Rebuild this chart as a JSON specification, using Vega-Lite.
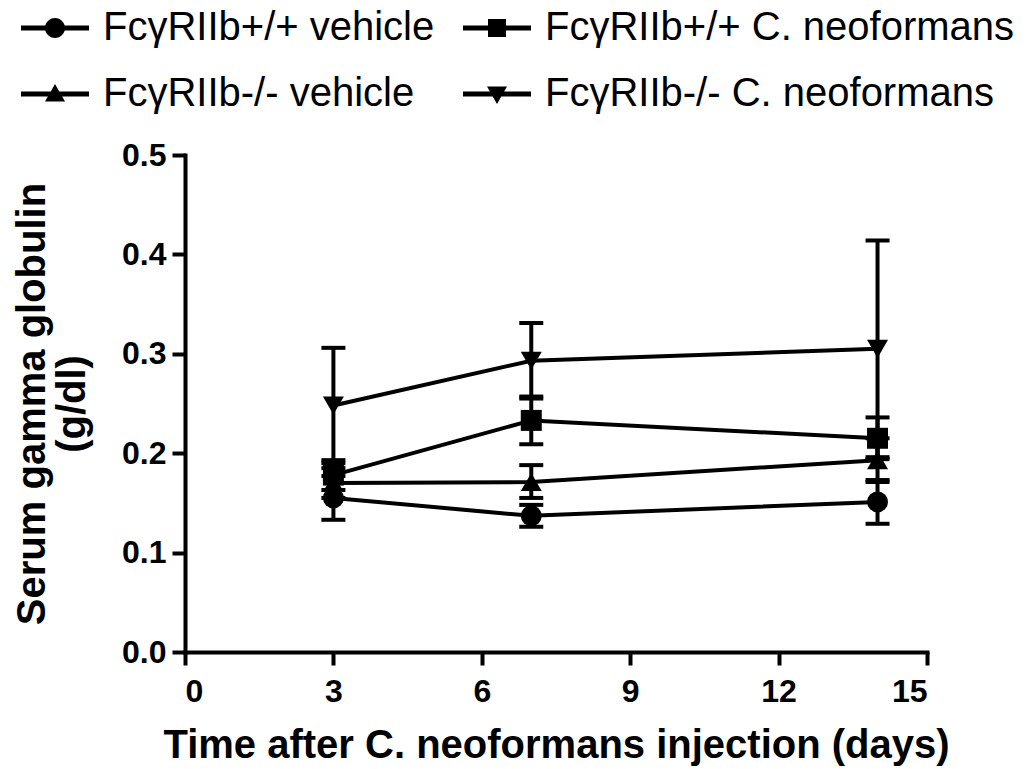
{
  "$schema": "https://vega.github.io/schema/vega-lite/v6.json",
  "width": 742,
  "height": 497,
  "autosize": "none",
  "padding": {"left": 185, "top": 155, "right": 108, "bottom": 117},
  "background": "white",
  "config": {
    "view": {"stroke": null},
    "font": "Liberation Sans",
    "axis": {
      "domainWidth": 4, "domainColor": "black", "domainCap": "square",
      "tickWidth": 4, "tickColor": "black", "tickSize": 13,
      "labelFont": "Liberation Sans", "labelFontWeight": "bold", "labelFontSize": 32, "labelColor": "black",
      "titleFont": "Liberation Sans", "titleFontWeight": "bold", "titleFontSize": 40, "titleColor": "black",
      "grid": false
    }
  },
  "data": {
    "values": [
      {"series": "FcγRIIb+/+ vehicle", "day": 3, "mean": 0.155, "lo": 0.133, "hi": 0.177},
      {"series": "FcγRIIb+/+ vehicle", "day": 7, "mean": 0.137, "lo": 0.126, "hi": 0.148},
      {"series": "FcγRIIb+/+ vehicle", "day": 14, "mean": 0.151, "lo": 0.129, "hi": 0.173},
      {"series": "FcγRIIb+/+ C. neoformans", "day": 3, "mean": 0.178, "lo": 0.163, "hi": 0.193},
      {"series": "FcγRIIb+/+ C. neoformans", "day": 7, "mean": 0.233, "lo": 0.209, "hi": 0.257},
      {"series": "FcγRIIb+/+ C. neoformans", "day": 14, "mean": 0.215, "lo": 0.194, "hi": 0.236},
      {"series": "FcγRIIb-/- vehicle", "day": 3, "mean": 0.170, "lo": 0.155, "hi": 0.185},
      {"series": "FcγRIIb-/- vehicle", "day": 7, "mean": 0.171, "lo": 0.155, "hi": 0.188},
      {"series": "FcγRIIb-/- vehicle", "day": 14, "mean": 0.193, "lo": 0.171, "hi": 0.215},
      {"series": "FcγRIIb-/- C. neoformans", "day": 3, "mean": 0.248, "lo": 0.190, "hi": 0.306},
      {"series": "FcγRIIb-/- C. neoformans", "day": 7, "mean": 0.293, "lo": 0.255, "hi": 0.331},
      {"series": "FcγRIIb-/- C. neoformans", "day": 14, "mean": 0.305, "lo": 0.196, "hi": 0.414}
    ]
  },
  "encoding": {
    "x": {
      "field": "day", "type": "quantitative",
      "scale": {"domain": [0, 15], "nice": false, "zero": false},
      "axis": {"values": [0, 3, 6, 9, 12, 15], "labelPadding": 11, "titlePadding": 18, "title": "Time after C. neoformans injection (days)"}
    }
  },
  "resolve": {"scale": {"shape": "independent"}},
  "layer": [
    {
      "mark": {"type": "rule", "strokeWidth": 4, "color": "black"},
      "encoding": {
        "y": {"field": "lo", "type": "quantitative", "scale": {"domain": [0, 0.5], "nice": false},
              "axis": {"values": [0, 0.1, 0.2, 0.3, 0.4, 0.5], "format": ".1f", "labelPadding": 6, "titlePadding": 29, "titleLineHeight": 40},
              "title": ["Serum gamma globulin", "(g/dl)"]},
        "y2": {"field": "hi"},
        "detail": {"field": "series"}
      }
    },
    {
      "mark": {"type": "tick", "orient": "horizontal", "thickness": 4, "size": 24, "color": "black", "opacity": 1},
      "encoding": {
        "y": {"field": "lo", "type": "quantitative", "title": ["Serum gamma globulin", "(g/dl)"]}
      }
    },
    {
      "mark": {"type": "tick", "orient": "horizontal", "thickness": 4, "size": 24, "color": "black", "opacity": 1},
      "encoding": {
        "y": {"field": "hi", "type": "quantitative", "title": ["Serum gamma globulin", "(g/dl)"]}
      }
    },
    {
      "mark": {"type": "line", "strokeWidth": 4, "color": "black"},
      "encoding": {
        "y": {"field": "mean", "type": "quantitative", "title": ["Serum gamma globulin", "(g/dl)"]},
        "detail": {"field": "series"}
      }
    },
    {
      "mark": {"type": "point", "filled": true, "size": 440, "opacity": 1, "color": "black", "strokeWidth": 0},
      "encoding": {
        "y": {"field": "mean", "type": "quantitative", "title": ["Serum gamma globulin", "(g/dl)"]},
        "shape": {
          "field": "series", "type": "nominal",
          "scale": {
            "domain": ["FcγRIIb+/+ vehicle", "FcγRIIb+/+ C. neoformans", "FcγRIIb-/- vehicle", "FcγRIIb-/- C. neoformans"],
            "range": ["circle", "square", "triangle-up", "triangle-down"]
          },
          "legend": null
        }
      }
    },
    {
      "mark": {"type": "point", "filled": true, "size": 400, "opacity": 0, "color": "black", "strokeWidth": 0},
      "encoding": {
        "y": {"field": "mean", "type": "quantitative", "title": ["Serum gamma globulin", "(g/dl)"]},
        "shape": {
          "field": "series", "type": "nominal",
          "scale": {
            "domain": ["FcγRIIb+/+ vehicle", "FcγRIIb+/+ C. neoformans", "FcγRIIb-/- vehicle", "FcγRIIb-/- C. neoformans"],
            "range": [
              "M-3.4,-0.25H3.4V0.25H-3.4Z M-1,0A1,1,0,1,1,1,0A1,1,0,1,1,-1,0Z",
              "M-3.4,-0.25H3.4V0.25H-3.4Z M-0.9,-0.9H0.9V0.9H-0.9Z",
              "M-3.4,-0.25H3.4V0.25H-3.4Z M0,-1L1,0.75H-1Z",
              "M-3.4,-0.25H3.4V0.25H-3.4Z M-1,-0.75H1L0,1Z"
            ]
          },
          "legend": {
            "orient": "none", "legendX": -150, "legendY": -147, "padding": 0,
            "direction": "horizontal", "columns": 2, "title": null,
            "labelFont": "Liberation Sans", "labelFontSize": 40, "labelColor": "black", "labelLimit": 0,
            "symbolSize": 400, "symbolFillColor": "black", "symbolStrokeWidth": 0, "symbolOpacity": 1,
            "labelOffset": 28, "columnPadding": 28, "rowPadding": 26
          }
        }
      }
    }
  ]
}
